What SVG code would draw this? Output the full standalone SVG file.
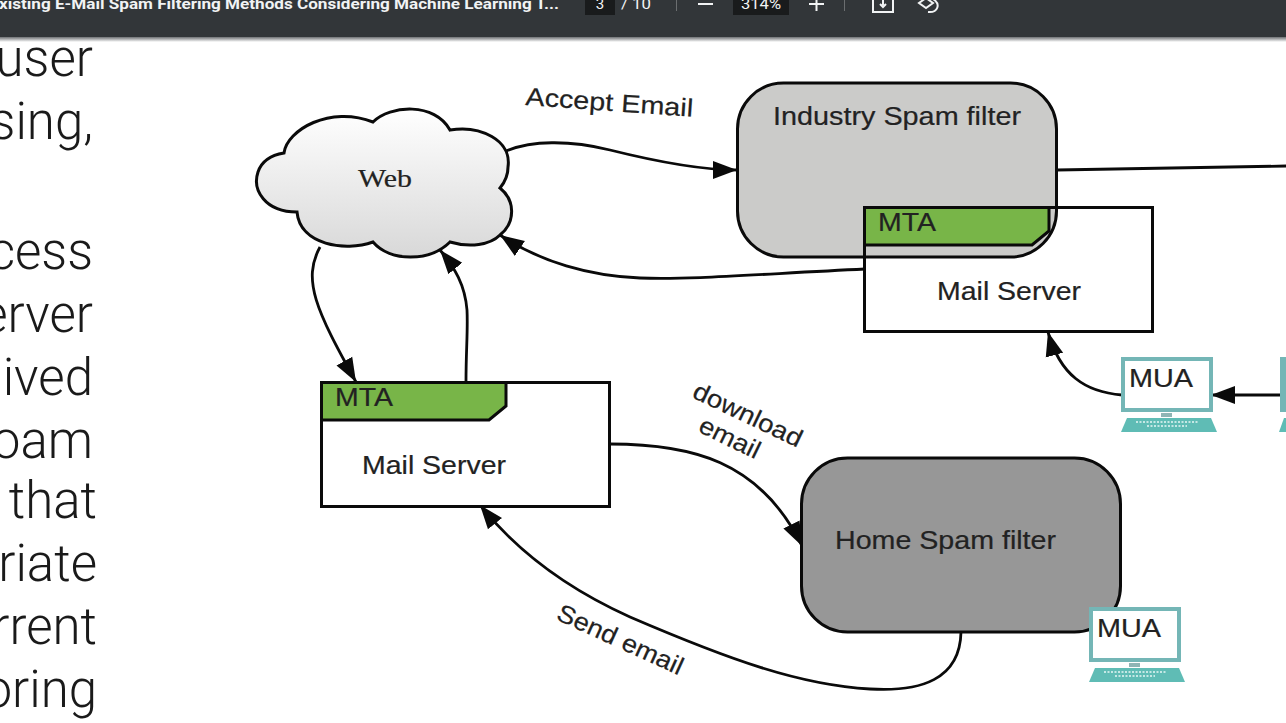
<svg xmlns="http://www.w3.org/2000/svg" width="1286" height="723" viewBox="0 0 1286 723">
<style>
.bar{font-family:Roboto,"Liberation Sans",sans-serif;fill:#f1f3f4;font-size:15px}
.doc{font-family:Roboto,"Liberation Sans",sans-serif;font-weight:300;font-size:51px;fill:#1a1a1a;text-anchor:end}
.lbl{font-family:"Liberation Sans",Arial,sans-serif;font-size:25px;fill:#222;stroke:#222;stroke-width:.2}
.shape{stroke:#0a0a0a;stroke-width:3}
.con{fill:none;stroke:#0a0a0a;stroke-width:2.800}
.lap{fill:#fff;stroke:#74b6b6;stroke-width:4}
.base{fill:#5fbcb5}
</style>
<defs>
<linearGradient id="cloudFill" x1="0" y1="0" x2="0" y2="1"><stop offset="0" stop-color="#ffffff"/><stop offset="1" stop-color="#d8d8d8"/></linearGradient>
<linearGradient id="shade" x1="0" y1="0" x2="0" y2="1"><stop offset="0" stop-color="#6e7174"/><stop offset="1" stop-color="#ffffff"/></linearGradient>
<marker id="arr" markerUnits="userSpaceOnUse" markerWidth="26" markerHeight="20" refX="24" refY="10" orient="auto"><path d="M0 1L24 10L0 19Z" fill="#0a0a0a"/></marker>
<g id="laptop">
<rect class="lap" x="2" y="2" width="88" height="51"/>
<rect x="40" y="56" width="11" height="4" fill="#8fb5b5"/>
<path class="base" d="M6 61H90L96 75H0Z"/>
<path d="M15 65H78M26 69H66" stroke="#e8f6f5" stroke-width="1.500" stroke-dasharray="2 1.500"/>
</g>
</defs>
<rect width="1286" height="723" fill="#ffffff"/>
<g id="viewer-bar">
<rect y="37" width="1286" height="5" fill="url(#shade)"/>
<rect width="1286" height="37" fill="#323639"/>
<text class="bar" x="-1" y="9" font-weight="700" textLength="560" lengthAdjust="spacingAndGlyphs">xisting E-Mail Spam Filtering Methods Considering Machine Learning T...</text>
<rect x="585" y="0" width="30" height="15" fill="#191b1c"/>
<text class="bar" x="600" y="9" text-anchor="middle">3</text>
<text class="bar" x="621" y="9" textLength="30" lengthAdjust="spacingAndGlyphs">/ 10</text>
<rect x="676" y="0" width="1" height="11" fill="#6b6e70"/>
<path d="M698 4H713" stroke="#f1f3f4" stroke-width="2"/>
<rect x="733" y="0" width="56" height="15" fill="#191b1c"/>
<text class="bar" x="741" y="9" textLength="40" lengthAdjust="spacingAndGlyphs">314%</text>
<path d="M809 4H824M816.500 0V11" stroke="#f1f3f4" stroke-width="2"/>
<rect x="844" y="0" width="1" height="11" fill="#6b6e70"/>
<path d="M873 0V12H893V0M883 0V5M880 4L883 7L886 4" fill="none" stroke="#f1f3f4" stroke-width="2"/>
<path d="M926 -2L933 3L926 8L919 3ZM933 -1C941 4 938 13 928 12" fill="none" stroke="#f1f3f4" stroke-width="2"/>
</g>
<g id="page-text">
<text class="doc" x="93" y="76">user</text>
<text class="doc" x="93" y="139">sing,</text>
<text class="doc" x="93" y="269">cess</text>
<text class="doc" x="93" y="332">erver</text>
<text class="doc" x="93" y="395">ived</text>
<text class="doc" x="93" y="458">oam</text>
<text class="doc" x="97" y="518">that</text>
<text class="doc" x="97" y="581">riate</text>
<text class="doc" x="97" y="644">rrent</text>
<text class="doc" x="97" y="707">oring</text>
</g>
<g id="mail-server-top-base"><rect x="864.500" y="207.500" width="288" height="124" fill="#fff"/></g>
<g id="connectors">
<path class="con" d="M504 152C530 140 570 140 610 150C650 160 700 170 737 170" marker-end="url(#arr)"/>
<path class="con" d="M1057 170L1286 166"/>
<path class="con" d="M865 269C760 274 690 280 640 278C590 276 540 262 500 235" marker-end="url(#arr)"/>
<path class="con" d="M320 247C302 280 316 310 356 382" marker-end="url(#arr)"/>
<path class="con" d="M466 381C466 350 468 330 467 310C465 285 455 268 440 250" marker-end="url(#arr)"/>
<path class="con" d="M610 444C690 444 760 460 802 546" marker-end="url(#arr)"/>
<path class="con" d="M961 632C960 680 920 692 870 689C800 685 730 660 630 617C570 590 520 555 480 505" marker-end="url(#arr)"/>
<path class="con" d="M1122 395C1085 392 1060 375 1048 332" marker-end="url(#arr)"/>
<path class="con" d="M1280 395H1211" marker-end="url(#arr)"/>
</g>
<g id="web">
<path class="shape" fill="url(#cloudFill)" d="M284 153C287 130 330 105 373 122C390 105 435 102 450 130C480 125 512 140 508 167C508 175 505 182 500 188C515 200 516 222 500 235C490 245 470 248 450 242C430 262 390 262 373 242C345 252 300 245 297 212C265 212 252 190 258 172C262 160 272 155 284 153Z"/>
<text x="358" y="187" font-family="Liberation Serif,serif" font-size="25" fill="#222" stroke="#222" stroke-width=".2" textLength="54" lengthAdjust="spacingAndGlyphs">Web</text>
</g>
<g id="industry-filter">
<rect class="shape" x="737.500" y="83" width="319" height="174" rx="46" fill="#cbcbc9"/>
<text class="lbl" x="773" y="125" textLength="248" lengthAdjust="spacingAndGlyphs">Industry Spam filter</text>
</g>
<g id="mail-server-top">
<rect class="shape" x="864.500" y="207.500" width="288" height="124" fill="none"/>
<path class="shape" d="M864.500 207.500H1049V231L1032 245H864.500Z" fill="#78b548"/>
<text class="lbl" x="878" y="231" textLength="58" lengthAdjust="spacingAndGlyphs">MTA</text>
<text class="lbl" x="937" y="300" textLength="144" lengthAdjust="spacingAndGlyphs">Mail Server</text>
</g>
<g id="mail-server-left">
<rect class="shape" x="321.500" y="382.500" width="288" height="124" fill="#fff"/>
<path class="shape" d="M321.500 382.500H506V406L489 420H321.500Z" fill="#78b548"/>
<text class="lbl" x="335" y="406" textLength="58" lengthAdjust="spacingAndGlyphs">MTA</text>
<text class="lbl" x="362" y="474" textLength="144" lengthAdjust="spacingAndGlyphs">Mail Server</text>
</g>
<g id="home-filter">
<rect class="shape" x="801.500" y="458" width="319" height="174" rx="46" fill="#979797"/>
<text class="lbl" x="835" y="549" textLength="221" lengthAdjust="spacingAndGlyphs">Home Spam filter</text>
</g>
<g id="mua-top"><use href="#laptop" x="1121" y="357"/><text class="lbl" x="1129" y="387" textLength="64" lengthAdjust="spacingAndGlyphs">MUA</text></g>
<g id="mua-bottom"><use href="#laptop" x="1089" y="607"/><text class="lbl" x="1097" y="637" textLength="64" lengthAdjust="spacingAndGlyphs">MUA</text></g>
<g id="mua-right"><rect x="1280" y="357" width="6" height="55" fill="#74b6b6"/><path class="base" d="M1284 418H1286V432H1279Z"/></g>
<g id="labels">
<text class="lbl" transform="translate(525 105) rotate(4)" textLength="168" lengthAdjust="spacingAndGlyphs">Accept Email</text>
<text class="lbl" transform="translate(691 397) rotate(25.500)" textLength="118" lengthAdjust="spacingAndGlyphs">download</text>
<text class="lbl" transform="translate(697 431) rotate(26)" textLength="65" lengthAdjust="spacingAndGlyphs">email</text>
<text class="lbl" transform="translate(555 619) rotate(24.500)" textLength="136" lengthAdjust="spacingAndGlyphs">Send email</text>
</g>
</svg>
